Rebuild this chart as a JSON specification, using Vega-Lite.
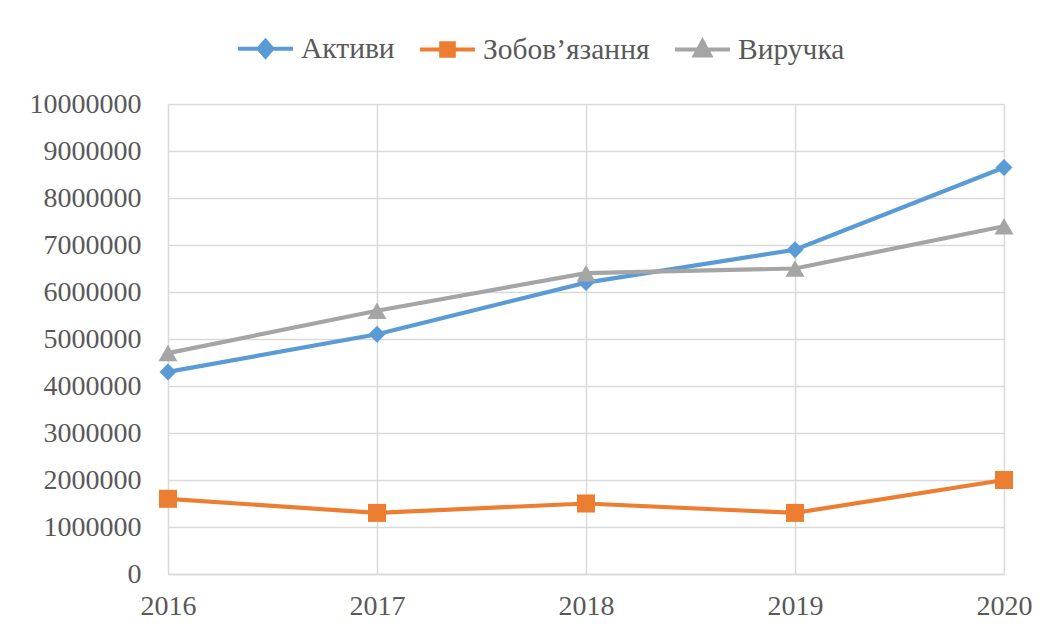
{
  "$schema": "https://vega.github.io/schema/vega-lite/v6.json",
  "width": 836,
  "height": 470,
  "autosize": {"type": "none"},
  "padding": {"left": 168, "top": 104, "right": 46, "bottom": 59},
  "background": "white",
  "config": {"font": "Liberation Serif", "view": {"stroke": null}},
  "data": {
    "values": [
      {"year": "2016", "series": "Активи", "value": 4300000},
      {"year": "2017", "series": "Активи", "value": 5100000},
      {"year": "2018", "series": "Активи", "value": 6200000},
      {"year": "2019", "series": "Активи", "value": 6900000},
      {"year": "2020", "series": "Активи", "value": 8650000},
      {"year": "2016", "series": "Зобов’язання", "value": 1600000},
      {"year": "2017", "series": "Зобов’язання", "value": 1300000},
      {"year": "2018", "series": "Зобов’язання", "value": 1500000},
      {"year": "2019", "series": "Зобов’язання", "value": 1300000},
      {"year": "2020", "series": "Зобов’язання", "value": 2000000},
      {"year": "2016", "series": "Виручка", "value": 4700000},
      {"year": "2017", "series": "Виручка", "value": 5600000},
      {"year": "2018", "series": "Виручка", "value": 6400000},
      {"year": "2019", "series": "Виручка", "value": 6500000},
      {"year": "2020", "series": "Виручка", "value": 7400000}
    ]
  },
  "encoding": {
    "x": {
      "field": "year", "type": "ordinal",
      "scale": {"type": "point", "padding": 0},
      "axis": {"title": null, "labelAngle": 0, "labelFontSize": 28, "labelColor": "#595959", "labelPadding": 18, "ticks": false, "domainColor": "#D9D9D9", "domainWidth": 1.5, "grid": true, "gridColor": "#D9D9D9", "gridWidth": 1.5}
    },
    "y": {
      "field": "value", "type": "quantitative",
      "scale": {"domain": [0, 10000000], "nice": false},
      "axis": {"title": null, "values": [0, 1000000, 2000000, 3000000, 4000000, 5000000, 6000000, 7000000, 8000000, 9000000, 10000000], "format": "d", "labelFontSize": 28, "labelColor": "#595959", "labelPadding": 27, "ticks": false, "domain": false, "gridColor": "#D9D9D9", "gridWidth": 1.5}
    },
    "color": {
      "field": "series", "type": "nominal",
      "scale": {"domain": ["Активи", "Зобов’язання", "Виручка"], "range": ["#5B9BD5", "#ED7D31", "#A5A5A5"]},
      "legend": {
        "orient": "none", "legendX": 68, "legendY": -85, "direction": "horizontal", "title": null,
        "labelFontSize": 29.5, "labelColor": "#595959", "labelLimit": 0, "symbolSize": 3025, "symbolStrokeWidth": 4,
        "labelOffset": 6, "columnPadding": 17,
        "encode": {
          "symbols": {
            "update": {
              "shape": {"signal": "datum.index === 0 ? 'M-1,0H1M0,-0.29L0.25,0L0,0.29L-0.25,0Z' : datum.index === 1 ? 'M-1,0H1M-0.23,-0.23H0.23V0.23H-0.23Z' : 'M-1,0H1M0,-0.3L0.28,0.22L-0.28,0.22Z'"},
              "size": {"value": 3025},
              "fill": {"signal": "scale('color', datum.value)"},
              "stroke": {"signal": "scale('color', datum.value)"},
              "strokeWidth": {"value": 4},
              "strokeOpacity": {"value": 1},
              "fillOpacity": {"value": 1},
              "opacity": {"value": 1}
            }
          }
        }
      }
    }
  },
  "layer": [
    {"mark": {"type": "line", "strokeWidth": 4.2}},
    {
      "transform": [{"filter": "datum.series === 'Активи'"}],
      "mark": {"type": "point", "filled": true, "opacity": 1, "shape": "diamond", "size": 289}
    },
    {
      "transform": [{"filter": "datum.series === 'Зобов’язання'"}],
      "mark": {"type": "point", "filled": true, "opacity": 1, "shape": "square", "size": 324}
    },
    {
      "transform": [{"filter": "datum.series === 'Виручка'"}],
      "mark": {"type": "point", "filled": true, "opacity": 1, "shape": "triangle-up", "size": 361}
    }
  ]
}
